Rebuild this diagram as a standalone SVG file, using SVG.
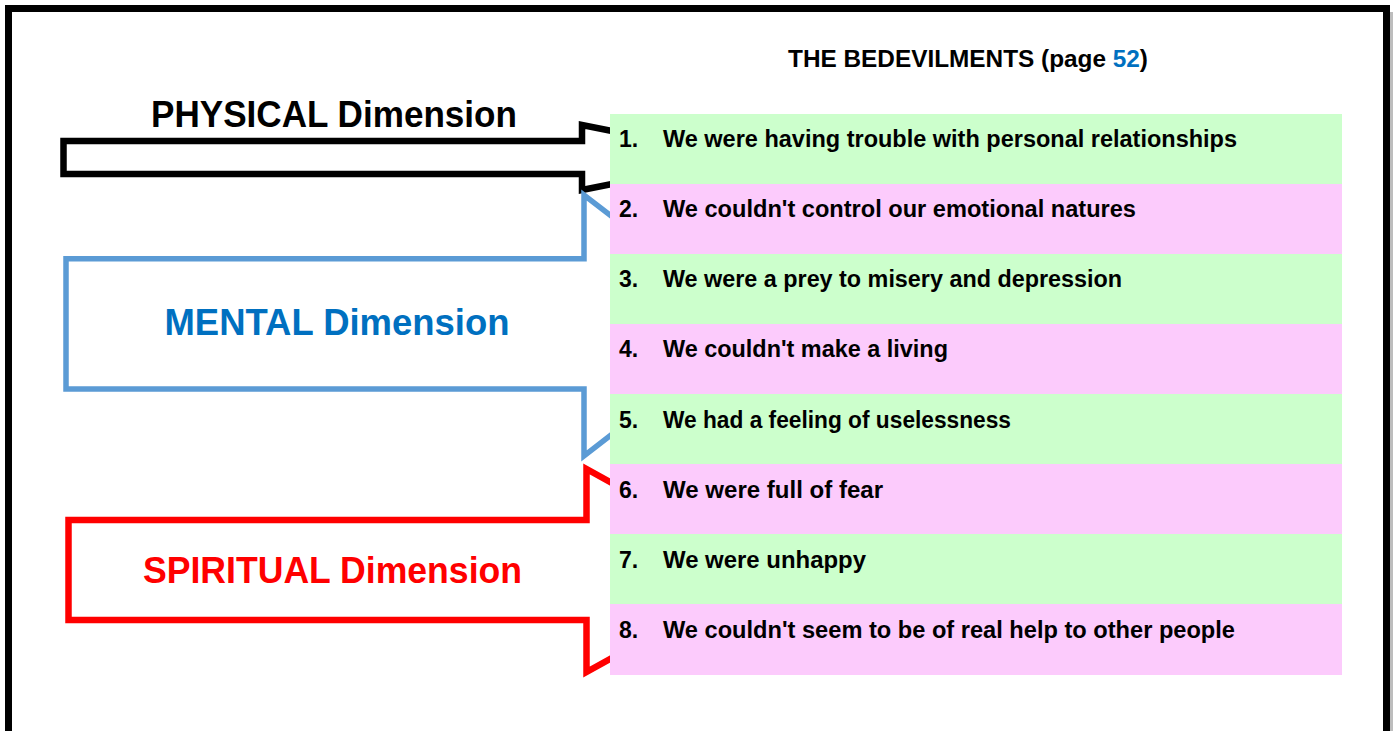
<svg xmlns="http://www.w3.org/2000/svg" width="1393" height="731" viewBox="0 0 1393 731">
<style>
.frame{fill:none;stroke:#000;stroke-width:7}
.arrow{fill:#fff;stroke-linejoin:miter;stroke-miterlimit:10}
.g{fill:#CCFFCC}
.p{fill:#FCCBFC}
.t{font-family:"Liberation Sans",Arial,sans-serif;font-weight:bold;font-size:23px;fill:#000}
.dim{font-family:"Liberation Sans",Arial,sans-serif;font-weight:bold;font-size:37px}
.title{font-family:"Liberation Sans",Arial,sans-serif;font-weight:bold;font-size:24px;fill:#000}
</style>
<rect x="0" y="0" width="1393" height="731" fill="#fff"/>
<rect x="1390" y="12" width="3" height="719" fill="#bdbdbd"/>
<rect class="frame" x="8.5" y="8.5" width="1378" height="760"/>

<g id="title">
<text class="title" x="788" y="67" textLength="360" lengthAdjust="spacingAndGlyphs">THE BEDEVILMENTS (page <tspan fill="#0070C0">52</tspan>)</text>
</g>

<g id="connectors">
<g id="physical">
<path class="arrow" d="M63.5,141 L582,141 L582,125 L745,157.5 L582,190 L582,174 L63.5,174 Z" stroke="#000" stroke-width="6.5"/>
<text class="dim" x="151" y="127" textLength="366" lengthAdjust="spacingAndGlyphs" fill="#000">PHYSICAL Dimension</text>
</g>
<g id="mental">
<path class="arrow" d="M66,258.7 L584,258.7 L584,195 L753,325 L584,456 L584,389 L66,389 Z" stroke="#5B9BD5" stroke-width="5.5"/>
<text class="dim" x="164.5" y="335" textLength="345" lengthAdjust="spacingAndGlyphs" fill="#0070C0">MENTAL Dimension</text>
</g>
<g id="spiritual">
<path class="arrow" d="M68.5,520 L586.5,520 L586.5,469 L770,570.5 L586.5,672 L586.5,620 L68.5,620 Z" stroke="#FF0000" stroke-width="6.5"/>
<text class="dim" x="143" y="583" textLength="379" lengthAdjust="spacingAndGlyphs" fill="#FF0000">SPIRITUAL Dimension</text>
</g>
</g>

<g id="row1"><rect class="g" x="610" y="114" width="732" height="71"/><text class="t" x="619" y="147">1.</text><text class="t" x="663" y="147" textLength="574" lengthAdjust="spacingAndGlyphs">We were having trouble with personal relationships</text></g>
<g id="row2"><rect class="p" x="610" y="184" width="732" height="71"/><text class="t" x="619" y="217">2.</text><text class="t" x="663" y="217" textLength="473" lengthAdjust="spacingAndGlyphs">We couldn't control our emotional natures</text></g>
<g id="row3"><rect class="g" x="610" y="254" width="732" height="71"/><text class="t" x="619" y="287">3.</text><text class="t" x="663" y="287" textLength="459" lengthAdjust="spacingAndGlyphs">We were a prey to misery and depression</text></g>
<g id="row4"><rect class="p" x="610" y="324" width="732" height="71"/><text class="t" x="619" y="357">4.</text><text class="t" x="663" y="357" textLength="285" lengthAdjust="spacingAndGlyphs">We couldn't make a living</text></g>
<g id="row5"><rect class="g" x="610" y="394" width="732" height="71"/><text class="t" x="619" y="428">5.</text><text class="t" x="663" y="428" textLength="348" lengthAdjust="spacingAndGlyphs">We had a feeling of uselessness</text></g>
<g id="row6"><rect class="p" x="610" y="464" width="732" height="71"/><text class="t" x="619" y="497.5">6.</text><text class="t" x="663" y="497.5" textLength="220" lengthAdjust="spacingAndGlyphs">We were full of fear</text></g>
<g id="row7"><rect class="g" x="610" y="534" width="732" height="71"/><text class="t" x="619" y="568">7.</text><text class="t" x="663" y="568" textLength="203" lengthAdjust="spacingAndGlyphs">We were unhappy</text></g>
<g id="row8"><rect class="p" x="610" y="604" width="732" height="71"/><text class="t" x="619" y="638">8.</text><text class="t" x="663" y="638" textLength="572" lengthAdjust="spacingAndGlyphs">We couldn't seem to be of real help to other people</text></g>
</svg>
